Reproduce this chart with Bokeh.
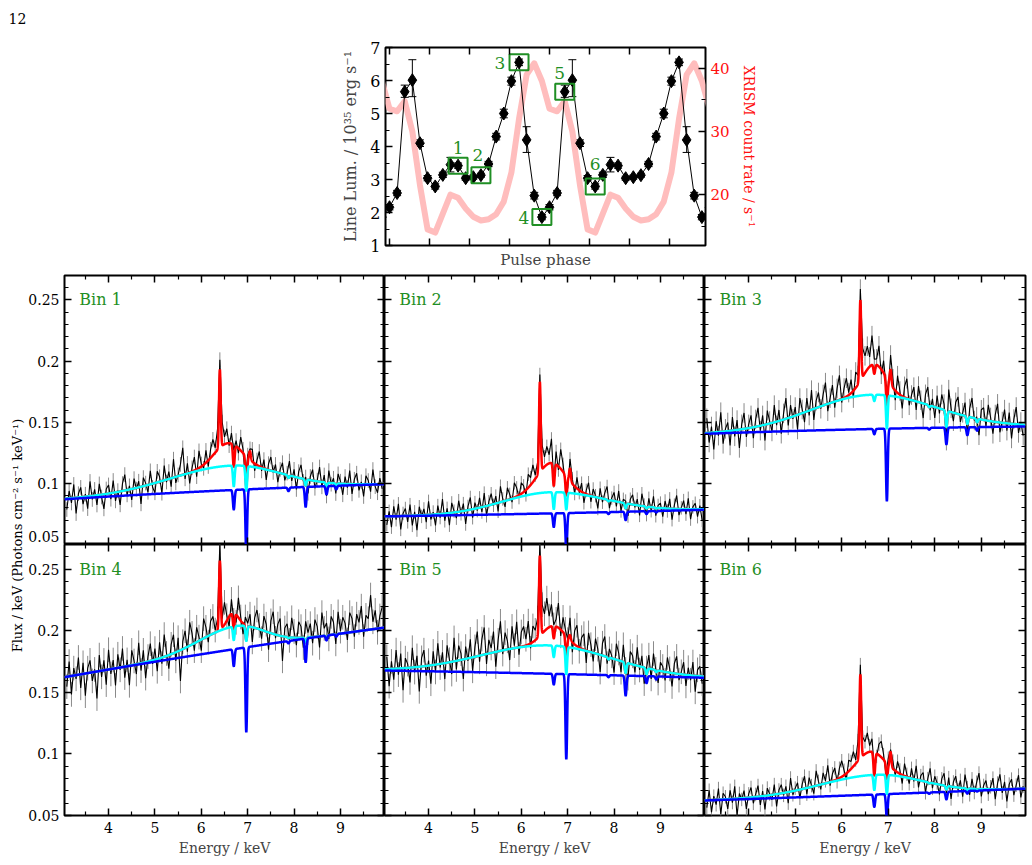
import numpy as np
from bokeh.plotting import figure
from bokeh.models import Range1d, LinearAxis, FixedTicker, Whisker, TeeHead, ColumnDataSource, Spacer
from bokeh.layouts import row, column
from bokeh.embed import file_html
from bokeh.resources import INLINE
from bokeh.core.properties import value

FONT = "DejaVu Serif"
GREEN = "#1f8f24"
PINK = "#ffbdbd"

# ---------------- pulse profile (one cycle, 21 phase bins) ----------------
bins_per_cycle = 21
n_cycles = 2
line_lum = [2.16, 2.59, 5.66, 6.01, 4.10, 3.04, 2.79, 3.14, 3.45, 3.42, 3.04,
            3.07, 3.13, 3.47, 4.30, 5.00, 5.98, 6.55, 4.20, 2.51, 1.86]
lum_err_lo = [0.08, 0.08, 0.17, 0.50, 0.10, 0.08, 0.08, 0.08, 0.22, 0.08, 0.06,
              0.06, 0.06, 0.08, 0.10, 0.13, 0.12, 0.10, 0.38, 0.10, 0.08]
lum_err_hi = [0.08, 0.08, 0.20, 0.62, 0.10, 0.08, 0.08, 0.08, 0.22, 0.08, 0.06,
              0.06, 0.06, 0.08, 0.10, 0.13, 0.12, 0.10, 0.40, 0.10, 0.08]
xrism_rate = [33.6, 33.2, 34.8, 30.0, 21.5, 14.5, 14.0, 17.0, 20.0, 19.5, 17.8,
              16.5, 15.9, 16.1, 16.9, 18.9, 23.5, 32.0, 39.0, 40.8, 38.0]
selected_bins = [9, 12, 17, 20, 23, 27]
selected_names = ["1", "2", "3", "4", "5", "6"]
name_dx = [0, -3, -19, -18, -5, 0]
name_dy = [-18, -20, 1, 1, -19, -22]

phase_ticks = [0, 0.25, 0.5, 0.75, 1.0, 1.25, 1.5, 1.75]
lum_ticks = [1, 2, 3, 4, 5, 6, 7]
lum_minor = [1.5, 2.5, 3.5, 4.5, 5.5, 6.5]
rate_ticks = [20, 30, 40]
rate_minor = [15, 25, 35]

# ---------------- phase-resolved spectra ----------------
bin_names = ["Bin 1", "Bin 2", "Bin 3", "Bin 4", "Bin 5", "Bin 6"]
energy_lo, energy_mid, energy_hi = 3.05, 6.70, 9.95
energy_ticks = [4, 5, 6, 7, 8, 9]
energy_minor = [3.5, 4.5, 5.5, 6.5, 7.5, 8.5, 9.5]
flux_ticks = [0.05, 0.10, 0.15, 0.20, 0.25]
flux_tick_labels = ["0.05", "0.1", "0.15", "0.2", "0.25"]
flux_minor = [round(0.05 + 0.01 * j, 2) for j in range(1, 22) if j % 5]
flux_lo, flux_hi = 0.05, 0.27
lowest_label_lift = 0.0065   # keeps the bottom label of the upper row inside its panel

# continuum (blue) at 3.05, 6.7 and 9.95 keV
cont_lo = [0.0870, 0.0730, 0.1405, 0.1623, 0.1677, 0.0622]
cont_mid = [0.0946, 0.0755, 0.1445, 0.1850, 0.1650, 0.0670]
cont_hi = [0.0993, 0.0784, 0.1465, 0.2025, 0.1618, 0.0718]
# broad hump (cyan minus blue)
broad_amp = [0.0200, 0.0173, 0.0280, 0.0185, 0.0230, 0.0160]
broad_cen = [6.65, 6.65, 6.65, 6.75, 6.60, 6.75]
broad_sig_lo = [1.30, 1.05, 1.30, 0.80, 1.45, 1.20]
broad_sig_hi = [1.05, 1.18, 1.35, 0.60, 1.33, 0.97]
# iron line complex (red minus cyan)
hump_amp = [0.0185, 0.0240, 0.0250, 0.0110, 0.0160, 0.0190]
hump_cen = [6.58, 6.65, 6.70, 6.68, 6.70, 6.62]
hump_sig = [0.30, 0.30, 0.25, 0.12, 0.25, 0.30]
fe_ka_energy, fe_kb_energy = 6.40, 7.05
fe_ka_amp = [0.064, 0.074, 0.066, 0.056, 0.065, 0.068]
fe_kb_amp = [0.007, 0.010, 0.012, 0.0, 0.004, 0.012]
narrow_sigma = 0.018
# absorption lines: fractional depth per component
absorption_energy = [6.70, 6.97, 7.88, 8.25, 8.70, 8.91]
absorption_sigma = 0.018
blue_depth = [
    [0.17, 0.55, 0.03, 0.17, 0.07, 0.03],
    [0.15, 0.40, 0.02, 0.09, 0.03, 0.015],
    [0.03, 0.41, 0.01, 0.095, 0.045, 0.02],
    [0.075, 0.37, 0.01, 0.10, 0.02, 0.01],
    [0.053, 0.42, 0.01, 0.10, 0.035, 0.015],
    [0.15, 0.30, 0.015, 0.09, 0.03, 0.01],
]
cyan_depth = [
    [0.15, 0.18, 0.02, 0.05, 0.03, 0.015],
    [0.15, 0.15, 0.015, 0.05, 0.02, 0.01],
    [0.03, 0.16, 0.01, 0.085, 0.04, 0.02],
    [0.055, 0.06, 0.005, 0.02, 0.01, 0.005],
    [0.05, 0.12, 0.01, 0.05, 0.03, 0.01],
    [0.15, 0.19, 0.01, 0.04, 0.02, 0.01],
]
red_depth_fe = [[0.14, 0.20], [0.16, 0.15], [0.04, 0.12], [0.06, 0.06], [0.05, 0.10], [0.19, 0.14]]

# observed spectra: residuals from the total model (1e-3 ph/cm2/s/keV), 0.05 keV bins from 3.10 keV
spec_step = 0.05
flux_err = [6.0, 5.5, 8.0, 10.0, 10.0, 5.5]
resid_bin1 = [-9, 6, -4, 11, -13, 3, 8, -6, 2, -10, 12, -3, 5, -8, 9, -2, -12, 4, 7, -5,
              10, -7, 1, -11, 6, 13, -4, 3, -9, 8, -1, 5, -14, 7, 2, -6, 11, -3, -8, 9,
              4, -10, 12, -2, 6, -7, 15, -5, 1, 9, 22, -4, 8, -9, 3, 11, -6, 14, 2, -3,
              10, -5, 7, 13, 4, 16, 8, 18, 6, 12, -2, 9, 14, 5, -4, 11, 3, -7, 8, 2,
              10, -6, 4, 12, -3, 7, -9, 5, 11, -1, 6, -8, 3, 9, -5, 2, 13, -4, 6, -10,
              5, 11, -2, 7, -11, 3, 9, -6, 1, 12, -4, 6, -8, 10, -1, 4, -7, 8, 2, -9,
              6, -3, 11, -8, 4, 9, -5, 2, -10, 7, 3, -6, 12, -2, -7, 5, -4]
resid_bin2 = [-7, 4, -9, 8, -3, 10, -11, 2, 6, -5, 9, -8, 3, -12, 7, -1, 5, -6, 11, -4,
              2, -9, 7, -3, 12, -6, 4, -10, 8, 1, -5, 9, -2, 6, -11, 3, 10, -7, 5, -2,
              8, -4, 11, -8, 3, 9, -1, 6, -7, 13, 2, -5, 10, 4, -3, 12, 7, -2, 9, 5,
              -4, 11, 6, 14, 3, 9, 6, 18, 8, 15, 7, 20, 4, 11, -3, 16, 6, 2, -5, 8,
              4, -6, 9, -2, 7, -8, 3, 10, -5, 6, 1, -9, 8, -3, 5, 11, -6, 2, 7, -4,
              9, -7, 3, 6, -10, 4, 8, -2, 5, -8, 10, 1, -5, 7, -3, 9, -6, 2, 4, -7,
              6, -2, 8, -9, 3, 11, -5, 1, 7, -4, 9, -8, 2, 5, -6, 3, -9]
resid_bin3 = [12, -8, 5, -14, 9, -3, 16, -10, 2, 7, -12, 11, -5, 8, -15, 4, 13, -7, 3, 10,
              -9, 6, 15, -4, 8, -13, 11, 2, -7, 14, -3, 9, -11, 5, 17, -6, 10, -2, 7, -12,
              13, 3, -8, 11, -4, 16, -9, 6, 12, -2, 9, 18, -6, 4, 14, -5, 10, 20, -3, 8,
              15, 2, 11, -6, 13, 6, 9, 22, 14, 19, 8, 24, 12, 5, 17, -4, 10, 6, -3, 12,
              7, -8, 14, 3, -10, 9, 16, -5, 4, 11, -7, 13, 2, -12, 8, 15, -3, 6, -9, 10,
              -4, 12, 5, -11, 18, 3, -7, 9, 14, -6, 2, 11, -9, 7, 16, -2, 4, -13, 8, 10,
              -5, 13, 3, -10, 6, 15, -8, 1, 11, -6, 9, -12, 4, 14, -7, 2, -9]
resid_bin4 = [-8, 12, -15, 6, -3, 14, -11, 9, -18, 4, 10, -7, 2, -22, 13, -5, 8, -12, 16, -4,
              7, -14, 11, -2, 15, -9, 5, -16, 12, 3, -8, 17, -6, 10, -13, 4, 14, -3, 9, -10,
              13, -5, 18, 2, -11, 8, 15, -7, 11, -25, 6, 14, -4, 19, 9, -6, 12, 3, -9, 16,
              8, -5, 11, 14, 2, 9, 15, 6, 18, 4, -8, 12, 7, -6, 16, 3, -9, 13, 5, 10,
              -12, 8, 15, 3, -7, 12, 6, -14, 10, 18, -3, 9, 14, -20, 7, 11, -2, 16, 5, -6,
              13, 9, -8, 17, 4, 11, -5, 14, 8, -9, 19, 6, 12, -3, 15, 10, -7, 18, 2, 13,
              8, -6, 16, 11, -4, 14, 7, 20, -5, 12, 9, 28, 6, 15, -3, 10, 17]
resid_bin5 = [10, -14, 6, -9, 15, -5, 12, -18, 8, 3, -12, 16, -4, 9, -20, 7, 13, -8, 4, -15,
              11, -6, 17, -3, 9, -13, 14, 2, -10, 19, -7, 12, 5, -16, 10, -2, 15, -11, 8, 20,
              -5, 13, 22, -8, 11, 4, 17, -12, 9, 24, -3, 14, 7, -9, 18, 2, 21, -6, 12, 16,
              5, 19, -4, 13, 8, 15, 10, 22, 14, 25, 9, 18, 11, 6, 20, -5, 12, 15, 3, 14,
              -8, 11, 17, -3, 9, 13, -10, 15, 6, -7, 12, 4, -14, 10, 16, -5, 8, 2, -11, 13,
              6, -9, 14, 3, -12, 10, 7, -6, 15, -3, 9, -13, 5, 11, -8, 13, 2, -10, 7, 4,
              -7, 12, 3, -11, 8, 14, -5, 2, 10, -9, 6, -4, 11, -13, 5, 8, -6]
resid_bin6 = [-6, 8, -10, 3, -4, 9, -12, 5, 2, -8, 7, -3, 10, -14, 4, -1, 6, -9, 3, 8,
              -5, 2, 9, -7, 4, -11, 6, 1, -4, 8, -10, 3, 7, -2, 5, -9, 11, -3, 2, 6,
              -7, 4, 10, -5, 8, 1, -6, 12, 3, -4, 9, 2, 14, -3, 6, 10, -2, 8, 13, 4,
              -5, 9, 6, 12, 3, 15, 8, 14, 10, 16, 5, 11, 7, -2, 9, 13, 4, -3, 8, 2,
              6, -4, 9, 3, -7, 10, 2, -5, 8, -2, 11, -6, 4, 7, -9, 3, 12, -4, 6, 1,
              -8, 5, 10, -3, 7, -10, 4, 9, -2, 6, -7, 11, 2, -5, 8, -3, 6, 13, -6, 3,
              7, -4, 2, 9, -8, 5, 12, -3, 6, -10, 4, 8, -5, 3, 11, -7, 2]
residuals = [resid_bin1, resid_bin2, resid_bin3, resid_bin4, resid_bin5, resid_bin6]


def gauss(e, c, s):
    return np.exp(-0.5 * ((e - c) / s) ** 2)


def continuum(e, lo, mid, hi):
    x0, x1, x2 = energy_lo, energy_mid, energy_hi
    return (lo * (e - x1) * (e - x2) / ((x0 - x1) * (x0 - x2))
            + mid * (e - x0) * (e - x2) / ((x1 - x0) * (x1 - x2))
            + hi * (e - x0) * (e - x1) / ((x2 - x0) * (x2 - x1)))


def transmission(e, depths):
    t = np.ones_like(e)
    for d, ea in zip(depths, absorption_energy):
        t = t * (1.0 - d * gauss(e, ea, absorption_sigma))
    return t


def model(i, e):
    cont = continuum(e, cont_lo[i], cont_mid[i], cont_hi[i])
    sig = np.where(e < broad_cen[i], broad_sig_lo[i], broad_sig_hi[i])
    broad = broad_amp[i] * np.exp(-0.5 * ((e - broad_cen[i]) / sig) ** 2)
    lines = (hump_amp[i] * gauss(e, hump_cen[i], hump_sig[i])
             + fe_ka_amp[i] * gauss(e, fe_ka_energy, narrow_sigma)
             + fe_kb_amp[i] * gauss(e, fe_kb_energy, narrow_sigma))
    blue = cont * transmission(e, blue_depth[i])
    cyan = (cont + broad) * transmission(e, cyan_depth[i])
    red = (cont + broad + lines) * transmission(e, red_depth_fe[i] + cyan_depth[i][2:])
    return blue, cyan, red


def style_axis(ax, show_labels, size="14px", color="black"):
    ax.axis_line_color = None
    ax.major_tick_in = 7
    ax.major_tick_out = 0
    ax.minor_tick_in = 4
    ax.minor_tick_out = 0
    ax.major_tick_line_width = 1.5
    ax.minor_tick_line_width = 1.2
    ax.major_tick_line_color = "black"
    ax.minor_tick_line_color = "black"
    ax.major_label_text_font = FONT
    ax.axis_label_text_font = FONT
    ax.axis_label_text_font_style = "normal"
    if show_labels:
        ax.major_label_text_font_size = size
        ax.major_label_text_color = color
        ax.major_label_standoff = 5
    else:
        ax.major_label_text_font_size = "0px"
        ax.major_label_text_color = None
        ax.major_label_standoff = 0


def bare_figure(w, h, **kw):
    p = figure(width=w, height=h, x_axis_location=None, y_axis_location=None,
               title=None, toolbar_location=None, output_backend="svg", **kw)
    p.grid.visible = False
    p.background_fill_color = "white"
    p.border_fill_color = "white"
    return p


# ---------------- page number strip ----------------
num_fig = bare_figure(1032, 30, x_range=Range1d(0, 1032), y_range=Range1d(0, 30),
                      min_border_left=0, min_border_right=0, min_border_top=0, min_border_bottom=0)
num_fig.outline_line_color = None
num_fig.text(x=[8], y=[12], text=["12"], text_font=value(FONT), text_font_size="14px",
             text_align="left", text_baseline="middle", text_color="black")

# ---------------- pulse profile panel ----------------
top = bare_figure(732, 244, x_range=Range1d(-0.025, 1.975), y_range=Range1d(1, 7),
                  min_border_left=85, min_border_right=327, min_border_top=17, min_border_bottom=29)
top.extra_y_ranges = {"rate": Range1d(11.95, 43.3)}
top.outline_line_color = "black"
top.outline_line_width = 2

ax = LinearAxis(ticker=FixedTicker(ticks=phase_ticks, minor_ticks=[]), axis_label="Pulse phase")
style_axis(ax, False)
ax.axis_label_text_font_size = "15px"
ax.axis_label_standoff = 5
top.add_layout(ax, "below")
ax = LinearAxis(ticker=FixedTicker(ticks=phase_ticks, minor_ticks=[]))
style_axis(ax, False)
top.add_layout(ax, "above")
ax = LinearAxis(ticker=FixedTicker(ticks=lum_ticks, minor_ticks=lum_minor),
                axis_label="Line Lum. / 10³⁵ erg s⁻¹")
style_axis(ax, True, size="16px")
ax.axis_label_text_font_size = "16px"
ax.axis_label_standoff = 7
top.add_layout(ax, "left")
ax = LinearAxis(y_range_name="rate", ticker=FixedTicker(ticks=rate_ticks, minor_ticks=rate_minor),
                axis_label="XRISM count rate / s⁻¹")
style_axis(ax, True, size="15px", color="#ff1010")
ax.axis_label_text_font_size = "14px"
ax.axis_label_text_color = "#ff1010"
ax.axis_label_standoff = 8
top.add_layout(ax, "right")

k = np.arange(-1, n_cycles * bins_per_cycle + 1)
phase = k / bins_per_cycle
lum = np.array(line_lum)[k % bins_per_cycle]
rate = np.array(xrism_rate)[k % bins_per_cycle]
top.line(phase, rate, y_range_name="rate", line_color=PINK, line_width=6, line_join="round")
top.line(phase, lum, line_color="black", line_width=1)

inside = (k >= 0) & (k < n_cycles * bins_per_cycle)
ki = k[inside]
err_src = ColumnDataSource(dict(
    phase=phase[inside],
    upper=lum[inside] + np.array(lum_err_hi)[ki % bins_per_cycle],
    lower=lum[inside] - np.array(lum_err_lo)[ki % bins_per_cycle],
))
top.add_layout(Whisker(base="phase", upper="upper", lower="lower", source=err_src,
                       line_color="black", line_width=1,
                       upper_head=TeeHead(size=8, line_color="black", line_width=1),
                       lower_head=TeeHead(size=8, line_color="black", line_width=1)))
top.scatter(phase, lum, marker="diamond", size=13, color="black")

sel = np.array(selected_bins)
sel_src = ColumnDataSource(dict(
    x=sel / bins_per_cycle,
    y=np.array(line_lum)[sel % bins_per_cycle],
    name=selected_names, dx=name_dx, dy=name_dy,
))
top.rect(x="x", y="y", width=19, height=16, width_units="screen", height_units="screen",
         fill_color=None, line_color=GREEN, line_width=2, source=sel_src)
top.text(x="x", y="y", text="name", x_offset="dx", y_offset="dy", source=sel_src,
         text_font=value(FONT), text_font_size="17px", text_color=GREEN,
         text_align="center", text_baseline="middle")

top_row = row(Spacer(width=300, height=244), top)

# ---------------- shared flux label ----------------
fig_ylab = bare_figure(25, 591, x_range=Range1d(0, 25), y_range=Range1d(0, 591),
                       min_border_left=0, min_border_right=0, min_border_top=0, min_border_bottom=0)
fig_ylab.outline_line_color = None
fig_ylab.text(x=[17], y=[330], text=["Flux / keV (Photons cm⁻² s⁻¹ keV⁻¹)"], angle=np.pi / 2,
              text_font=value(FONT), text_font_size="13px", text_align="center",
              text_baseline="middle", text_color="black")

# ---------------- spectral panels ----------------
panel_geom = [
    (359, 270, 38, 0, 1, 0),
    (320, 270, 0, 0, 1, 0),
    (328, 270, 0, 7, 1, 0),
    (359, 321, 38, 0, 0, 50),
    (320, 321, 0, 0, 0, 50),
    (328, 321, 0, 7, 0, 50),
]
e_fine = np.arange(energy_lo, energy_hi + 1e-9, 0.002)
panels = []
for i in range(6):
    w, h, bl, br, bt, bb = panel_geom[i]
    col_i, row_i = i % 3, i // 3
    p = bare_figure(w, h, x_range=Range1d(energy_lo, energy_hi), y_range=Range1d(flux_lo, flux_hi),
                    min_border_left=bl, min_border_right=br, min_border_top=bt, min_border_bottom=bb)
    p.outline_line_color = "black"
    p.outline_line_width = 2

    # energy axes (bottom labelled on the lower row only)
    ax = LinearAxis(ticker=FixedTicker(ticks=energy_ticks, minor_ticks=energy_minor))
    style_axis(ax, row_i == 1)
    if row_i == 1:
        ax.major_label_standoff = 6
        ax.axis_label = "Energy / keV"
        ax.axis_label_text_font_size = "14px"
        ax.axis_label_standoff = 4
    p.add_layout(ax, "below")
    ax = LinearAxis(ticker=FixedTicker(ticks=energy_ticks, minor_ticks=energy_minor))
    style_axis(ax, False)
    p.add_layout(ax, "above")

    # flux axes: tick marks on both sides, labels on the left column
    ax = LinearAxis(ticker=FixedTicker(ticks=flux_ticks, minor_ticks=flux_minor))
    style_axis(ax, False)
    p.add_layout(ax, "left")
    if col_i == 0:
        label_pos = list(flux_ticks)
        if row_i == 0:
            label_pos[0] = round(flux_ticks[0] + lowest_label_lift, 4)
        ax = LinearAxis(ticker=FixedTicker(ticks=label_pos, minor_ticks=[]))
        style_axis(ax, True)
        ax.major_tick_line_color = None
        ax.major_tick_in = 0
        ax.major_label_overrides = dict(zip(label_pos, flux_tick_labels))
        p.add_layout(ax, "left")
    ax = LinearAxis(ticker=FixedTicker(ticks=flux_ticks, minor_ticks=flux_minor))
    style_axis(ax, False)
    p.add_layout(ax, "right")

    res = np.array(residuals[i], dtype=float) * 1e-3
    e_data = energy_lo + spec_step * np.arange(1, len(res) + 1)
    _, _, red_at_data = model(i, e_data)
    flux = red_at_data + res
    err = flux_err[i] * 1e-3
    p.segment(x0=e_data, y0=flux - err, x1=e_data, y1=flux + err, line_color="#8a8a8a", line_width=1)
    p.line(e_data, flux, line_color="black", line_width=1.1)

    blue, cyan, red = model(i, e_fine)
    p.line(e_fine, red, line_color="#ff0000", line_width=2.5)
    p.line(e_fine, cyan, line_color="#00ffff", line_width=2.5)
    p.line(e_fine, blue, line_color="#0000ff", line_width=2.5)

    p.text(x=[3.37], y=[0.25], text=[bin_names[i]], text_font=value(FONT), text_font_size="16px",
           text_color=GREEN, text_align="left", text_baseline="middle")
    panels.append(p)

grid = column(row(*panels[:3]), row(*panels[3:]))
layout = column(num_fig, top_row, row(fig_ylab, grid))

open("out.html", "w").write(file_html(layout, INLINE))
